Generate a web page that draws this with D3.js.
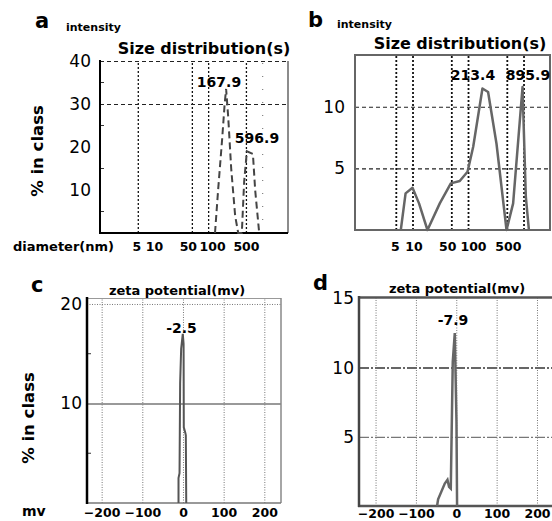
<!DOCTYPE html>
<html>
<head>
<meta charset="utf-8">
<script src="https://cdn.jsdelivr.net/npm/d3@7"></script>
<style>
  body { margin: 0; background: #fff; }
  svg { display: block; }
  text { font-family: "DejaVu Sans", sans-serif; fill: #000; }
</style>
</head>
<body>
<svg width="552" height="521"></svg>
<script>
// a: size distribution (intensity), dashed curve
const sizeA = [134, 153, 182, 202, 215, 235, 267, 316, 360, 420, 464, 521, 673, 741, 880];
const pctA = [0, 10, 22, 30, 33.5, 27, 15, 4, 0, 0, 12, 19, 18.4, 10, 0];
// b: size distribution (intensity), solid curve
const sizeB = [6.15, 7.5, 10, 13.1, 18.6, 31, 49, 71, 98, 124, 182, 230, 326, 494, 650, 960, 1100, 1250];
const pctB = [0, 2.97, 3.43, 2.16, 0, 2.16, 3.78, 3.97, 4.73, 6.75, 11.48, 11.2, 7.0, 0, 2.16, 11.6, 2.7, 0];
// c, d: zeta potential
const mvC = [-11, -11, -8.5, -7, -4.5, -0.5, 1.5, 2, 6, 7, 8];
const pctC = [0, 2.5, 3, 12, 15.5, 17, 16, 7.6, 7, 6.8, 0];
const mvD = [-47.6, -45, -28.5, -21.8, -17.9, -13.6, -8.7, -3.7, 0.5, 2];
const pctD = [0, 0.48, 1.62, 1.9, 1.38, 1.26, 10.4, 12.5, 6.1, 0];

const sizeTicks = [5, 10, 50, 100, 500];
const mvTicks = [-200, -100, 0, 100, 200];
const peaksA = [['167.9', 219, 82], ['596.9', 257, 138]];
const peaksB = [['213.4', 473, 75], ['895.9', 528, 75]];
// label nudges so the crowded log labels do not collide
const nudgeA = { 5: -1.5, 10: 0, 50: -4, 100: 4, 500: 0 };
const nudgeB = { 5: -1, 10: 1, 50: -4, 100: 5, 500: 1 };

const svg = d3.select('svg');

// gridlines through an axis, with styled tick lines
function vGrid(x, vals, y0, y1, stroke, w, dash) {
  const g = svg.append('g')
    .attr('transform', `translate(0,${y0})`)
    .call(d3.axisBottom(x).tickValues(vals).tickSize(-(y0 - y1)).tickFormat(''));
  g.select('.domain').remove();
  g.selectAll('line').attr('stroke', stroke).attr('stroke-width', w).attr('stroke-dasharray', dash);
}
function hGrid(y, vals, x0, x1, stroke, w, dash) {
  const g = svg.append('g')
    .attr('transform', `translate(${x0},0)`)
    .call(d3.axisLeft(y).tickValues(vals).tickSize(-(x1 - x0)).tickFormat(''));
  g.select('.domain').remove();
  g.selectAll('line').attr('stroke', stroke).attr('stroke-width', w).attr('stroke-dasharray', dash);
}
function xLabels(x, vals, ty, nudge) {
  const g = svg.append('g')
    .attr('transform', `translate(0,${ty})`)
    .call(d3.axisBottom(x).tickValues(vals).tickSize(0).tickFormat(d3.format('d')));
  g.select('.domain').remove();
  g.selectAll('text').attr('y', 0).attr('dy', '0.36em')
    .attr('dx', d => nudge ? nudge[d] : 0)
    .attr('font-size', 12.5).attr('font-weight', 'bold')
    .attr('font-family', '"DejaVu Sans", sans-serif').attr('fill', '#000');
}
function yLabels(y, vals, tx) {
  const g = svg.append('g')
    .attr('transform', `translate(${tx},0)`)
    .call(d3.axisLeft(y).tickValues(vals).tickSize(0).tickPadding(0));
  g.select('.domain').remove();
  g.selectAll('text').attr('font-size', 17)
    .attr('font-family', '"DejaVu Sans", sans-serif').attr('fill', '#000');
}
function minorY(y, vals, x0, len) {
  svg.append('g').selectAll('line').data(vals).join('line')
    .attr('x1', x0).attr('x2', x0 + len)
    .attr('y1', d => y(d)).attr('y2', d => y(d))
    .attr('stroke', '#333').attr('stroke-width', 1);
}
function txt(s, x, y, size, anchor, weight) {
  return svg.append('text').text(s).attr('x', x).attr('y', y)
    .attr('font-size', size).attr('text-anchor', anchor || 'start')
    .attr('font-weight', weight || 'bold');
}
function seg(x1, y1, x2, y2, stroke, w, dash) {
  svg.append('line').attr('x1', x1).attr('y1', y1).attr('x2', x2).attr('y2', y2)
    .attr('stroke', stroke).attr('stroke-width', w).attr('stroke-dasharray', dash || null);
}

// ---------- panel a ----------
const xA = d3.scaleLog().domain([1, 3000]).range([100, 288]);
const yA = d3.scaleLinear().domain([0, 40]).range([233, 61]);
vGrid(xA, [5, 50, 100, 500], 233, 61, '#111', 1.3, '2,2');
vGrid(xA, [1000], 233, 61, '#666', 1, '1,12');
hGrid(yA, [30, 40], 100, 288, '#222', 1, '4,3');
minorY(yA, [5, 15, 25, 35], 100, 4);
seg(288, 61, 288, 233, '#666', 1.5);
seg(100, 60, 100, 234, '#000', 2);
seg(99, 233, 288, 233, '#000', 2);
svg.append('path')
  .datum(sizeA.map((d, i) => [d, pctA[i]]))
  .attr('fill', 'none').attr('stroke', '#444').attr('stroke-width', 2)
  .attr('stroke-dasharray', '7,4')
  .attr('d', d3.line().x(d => xA(d[0])).y(d => yA(d[1])));
yLabels(yA, [10, 20, 30, 40], 91);
xLabels(xA, sizeTicks, 246, nudgeA);
txt('a', 35, 28, 21);
txt('intensity', 66, 31, 11);
txt('Size distribution(s)', 204, 54, 16, 'middle');
txt('diameter(nm)', 13, 251, 13);
txt('% in class', 0, 0, 16.5, 'middle').attr('transform', 'translate(43,151) rotate(-90)');
peaksA.forEach(p => txt(p[0], p[1], p[2] + 5, 14, 'middle'));

// ---------- panel b ----------
const xB = d3.scaleLog().domain([0.92, 3000]).range([355, 550]);
const yB = d3.scaleLinear().domain([0, 14.2]).range([230, 55]);
vGrid(xB, [5, 10, 50, 100, 500, 1000], 230, 55, '#111', 1.8, '2,2');
hGrid(yB, [5, 10], 355, 550, '#222', 1.2, '4,3');
svg.append('rect').attr('x', 355).attr('y', 55).attr('width', 195).attr('height', 175)
  .attr('fill', 'none').attr('stroke', '#666').attr('stroke-width', 2);
svg.append('path')
  .datum(sizeB.map((d, i) => [d, pctB[i]]))
  .attr('fill', 'none').attr('stroke', '#666').attr('stroke-width', 2.5)
  .attr('stroke-linejoin', 'round')
  .attr('d', d3.line().x(d => xB(d[0])).y(d => yB(d[1])));
yLabels(yB, [5, 10], 345);
xLabels(xB, sizeTicks, 246, nudgeB);
txt('b', 308, 27, 21);
txt('intensity', 337, 28, 11);
txt('Size distribution(s)', 460, 49, 16, 'middle');
peaksB.forEach(p => txt(p[0], p[1], p[2] + 5, 14, 'middle'));

// ---------- panel c ----------
const xC = d3.scaleLinear().domain([-236, 241]).range([87, 281]);
const yC = d3.scaleLinear().domain([0, 20.6]).range([503, 298]);
vGrid(xC, mvTicks, 503, 298, '#777', 1, '1,1.5');
hGrid(yC, [20], 87, 281, '#777', 1, '1,1.5');
hGrid(yC, [10], 87, 281, '#777', 1.5, null);
minorY(yC, [5, 15], 87, 4);
seg(87, 298.5, 281, 298.5, '#999', 1);
seg(281, 298, 281, 503, '#888', 1.5);
seg(87, 503, 281, 503, '#777', 1.5);
seg(87, 297, 87, 504, '#000', 2.5);
svg.append('path')
  .datum(mvC.map((d, i) => [d, pctC[i]]))
  .attr('fill', 'none').attr('stroke', '#555').attr('stroke-width', 2)
  .attr('d', d3.line().x(d => xC(d[0])).y(d => yC(d[1])));
yLabels(yC, [10, 20], 82);
xLabels(xC, mvTicks, 512);
txt('c', 31, 292, 21);
txt('zeta potential(mv)', 177, 295, 13, 'middle');
txt('mv', 22, 516, 14);
txt('% in class', 0, 0, 16.5, 'middle').attr('transform', 'translate(34,418) rotate(-90)');
txt('-2.5', 181.5, 333, 14, 'middle');

// ---------- panel d ----------
const xD = d3.scaleLinear().domain([-241, 257]).range([359, 560]);
const yD = d3.scaleLinear().domain([0, 15.1]).range([506, 297]);
vGrid(xD, mvTicks, 506, 297, '#777', 1, '1,1.5');
hGrid(yD, [10], 359, 560, '#666', 2, '10,2,2,2');
hGrid(yD, [5], 359, 560, '#777', 1.3, '10,2,2,2');
seg(359, 297.5, 560, 297.5, '#555', 2.5);
seg(358, 506, 560, 506, '#555', 2.5);
seg(359, 296, 359, 507, '#444', 2.5);
svg.append('path')
  .datum(mvD.map((d, i) => [d, pctD[i]]))
  .attr('fill', 'none').attr('stroke', '#666').attr('stroke-width', 2.5)
  .attr('d', d3.line().x(d => xD(d[0])).y(d => yD(d[1])));
yLabels(yD, [5, 10, 15], 354);
xLabels(xD, mvTicks, 513);
txt('d', 313, 290, 21);
txt('zeta potential(mv)', 457, 293, 13, 'middle');
txt('-7.9', 453, 325, 14, 'middle');
</script>
</body>
</html>
